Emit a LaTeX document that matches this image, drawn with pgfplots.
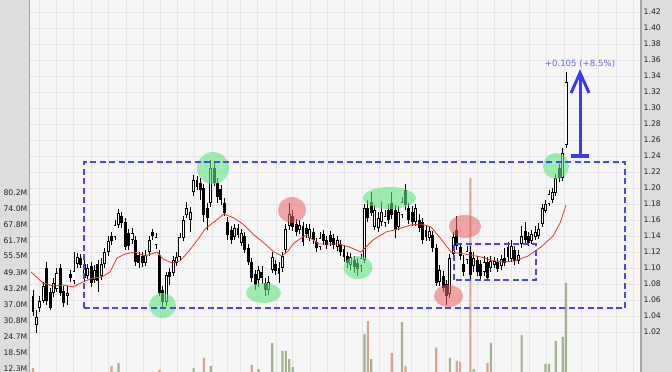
\documentclass[border=0pt]{standalone}
\usepackage{pgfplots}
\pgfplotsset{compat=1.18}
\usepackage{pgfplotstable}
\usepackage{fontspec}
\setmainfont{DejaVu Sans}
\definecolor{plotbg}{RGB}{246,246,246}
\definecolor{gridc}{RGB}{229,229,229}
\definecolor{stripc}{RGB}{221,221,221}
\definecolor{borderc}{RGB}{165,165,165}
\definecolor{volgreen}{RGB}{163,178,143}
\definecolor{volred}{RGB}{214,164,143}
\definecolor{maRed}{RGB}{245,50,50}
\definecolor{rectblue}{RGB}{72,72,238}
\definecolor{arrowblue}{RGB}{58,58,240}
\definecolor{textblue}{RGB}{100,100,235}
\definecolor{cgreen}{RGB}{100,228,130}
\definecolor{cred}{RGB}{236,100,100}
\definecolor{tickc}{RGB}{34,34,34}
\newcommand{\tickfont}{\fontsize{7.7}{9}\selectfont}
\newcommand{\annfont}{\fontsize{8.6}{10}\selectfont}

\pgfplotstableread{
i o h l c
0 1.065 1.0725 1.040 1.045
1 1.029 1.0475 1.019 1.039
2 1.050 1.065 1.045 1.059
3 1.059 1.0825 1.056 1.0775
4 1.100 1.1075 1.054 1.059
5 1.070 1.075 1.0475 1.050
6 1.069 1.0875 1.064 1.081
7 1.074 1.100 1.070 1.094
8 1.100 1.105 1.065 1.069
9 1.071 1.0775 1.051 1.056
10 1.065 1.0775 1.054 1.069
11 1.0925 1.0975 1.0825 1.0875
12 1.084 1.120 1.080 1.096
13 1.105 1.119 1.100 1.114
14 1.1125 1.1175 1.100 1.104
15 1.0875 1.110 1.084 1.105
16 1.090 1.105 1.086 1.100
17 1.1025 1.1075 1.076 1.081
18 1.085 1.104 1.081 1.0975
19 1.105 1.110 1.070 1.084
20 1.090 1.1125 1.085 1.105
21 1.105 1.125 1.100 1.120
22 1.120 1.140 1.115 1.134
23 1.140 1.145 1.129 1.134
24 1.139 1.160 1.135 1.154
25 1.154 1.174 1.150 1.169
26 1.165 1.170 1.150 1.156
27 1.1575 1.1625 1.1225 1.126
28 1.144 1.149 1.1225 1.1275
29 1.135 1.150 1.130 1.144
30 1.135 1.140 1.1025 1.1075
31 1.116 1.120 1.100 1.106
32 1.115 1.120 1.101 1.106
33 1.106 1.1225 1.1025 1.116
34 1.120 1.140 1.115 1.135
35 1.145 1.149 1.135 1.140
36 1.129 1.144 1.124 1.139
37 1.116 1.1225 1.065 1.069
38 1.0725 1.0775 1.050 1.0575
39 1.0575 1.095 1.0525 1.091
40 1.095 1.100 1.079 1.089
41 1.094 1.115 1.090 1.110
42 1.106 1.120 1.1025 1.114
43 1.114 1.144 1.110 1.139
44 1.1375 1.165 1.134 1.160
45 1.166 1.1825 1.1625 1.175
46 1.160 1.176 1.145 1.170
47 1.195 1.216 1.190 1.210
48 1.210 1.215 1.1975 1.201
49 1.206 1.2125 1.185 1.1975
50 1.200 1.205 1.1575 1.166
51 1.175 1.181 1.1475 1.1625
52 1.181 1.235 1.176 1.225
53 1.225 1.231 1.2025 1.206
54 1.206 1.2125 1.181 1.189
55 1.199 1.204 1.179 1.185
56 1.181 1.1875 1.165 1.169
57 1.1575 1.164 1.135 1.141
58 1.1475 1.1525 1.130 1.135
59 1.139 1.155 1.135 1.150
60 1.150 1.155 1.1375 1.141
61 1.131 1.149 1.1275 1.144
62 1.140 1.145 1.119 1.1225
63 1.125 1.130 1.104 1.1075
64 1.1075 1.1125 1.0825 1.0875
65 1.0925 1.0975 1.0725 1.079
66 1.085 1.1025 1.076 1.0975
67 1.095 1.1025 1.080 1.0875
68 1.081 1.0875 1.065 1.0725
69 1.0725 1.090 1.066 1.0825
70 1.0975 1.120 1.094 1.114
71 1.105 1.110 1.091 1.096
72 1.100 1.1075 1.081 1.0925
73 1.100 1.120 1.095 1.115
74 1.1225 1.155 1.119 1.149
75 1.1525 1.181 1.1475 1.1675
76 1.165 1.1725 1.146 1.151
77 1.155 1.161 1.140 1.145
78 1.1475 1.160 1.1425 1.154
79 1.1525 1.1575 1.1275 1.1325
80 1.150 1.155 1.1375 1.1425
81 1.1375 1.155 1.134 1.149
82 1.145 1.150 1.130 1.135
83 1.1325 1.1375 1.120 1.125
84 1.126 1.145 1.1225 1.1375
85 1.1425 1.1475 1.129 1.134
86 1.135 1.140 1.124 1.129
87 1.141 1.146 1.1275 1.1325
88 1.1375 1.1425 1.124 1.129
89 1.126 1.140 1.121 1.135
90 1.130 1.135 1.115 1.120
91 1.124 1.129 1.1075 1.114
92 1.115 1.120 1.100 1.106
93 1.104 1.119 1.0975 1.114
94 1.110 1.115 1.094 1.101
95 1.106 1.1125 1.090 1.099
96 1.1025 1.1175 1.095 1.1125
97 1.110 1.180 1.106 1.175
98 1.175 1.185 1.1575 1.1625
99 1.1825 1.195 1.165 1.169
100 1.151 1.179 1.1475 1.1725
101 1.150 1.170 1.145 1.1625
102 1.1575 1.1825 1.1525 1.170
103 1.156 1.1725 1.151 1.165
104 1.1725 1.180 1.155 1.160
105 1.181 1.195 1.161 1.166
106 1.1725 1.179 1.1375 1.1475
107 1.151 1.1775 1.1475 1.170
108 1.166 1.189 1.1625 1.1825
109 1.1975 1.205 1.1725 1.179
110 1.175 1.181 1.155 1.160
111 1.170 1.1775 1.1525 1.1575
112 1.1575 1.180 1.1525 1.175
113 1.160 1.1675 1.145 1.150
114 1.1575 1.1625 1.130 1.135
115 1.1475 1.1525 1.134 1.139
116 1.1375 1.151 1.134 1.146
117 1.141 1.146 1.120 1.125
118 1.125 1.130 1.0775 1.081
119 1.0825 1.104 1.0775 1.0975
120 1.090 1.096 1.070 1.075
121 1.080 1.085 1.054 1.065
122 1.0675 1.1175 1.0625 1.1125
123 1.1175 1.145 1.114 1.139
124 1.1475 1.165 1.1225 1.1275
125 1.126 1.131 1.110 1.115
126 1.105 1.116 1.090 1.095
127 1.110 1.1275 1.105 1.121
128 1.120 1.1275 1.085 1.091
129 1.1025 1.120 1.095 1.1125
130 1.110 1.115 1.090 1.095
131 1.105 1.110 1.085 1.090
132 1.095 1.115 1.090 1.1075
133 1.1075 1.114 1.084 1.0875
134 1.100 1.115 1.095 1.109
135 1.104 1.114 1.100 1.109
136 1.1075 1.1125 1.095 1.099
137 1.1025 1.116 1.0975 1.111
138 1.1125 1.125 1.1025 1.106
139 1.126 1.1325 1.1075 1.114
140 1.111 1.135 1.1075 1.1275
141 1.1225 1.1275 1.104 1.109
142 1.109 1.1225 1.105 1.116
143 1.130 1.1525 1.125 1.140
144 1.146 1.1575 1.130 1.135
145 1.140 1.145 1.1275 1.131
146 1.134 1.1475 1.130 1.1425
147 1.139 1.1525 1.135 1.145
148 1.140 1.156 1.136 1.149
149 1.155 1.180 1.151 1.175
150 1.171 1.185 1.169 1.180
151 1.180 1.1975 1.1775 1.1925
152 1.185 1.200 1.181 1.195
153 1.194 1.2175 1.190 1.2125
154 1.225 1.230 1.2075 1.2125
155 1.2125 1.250 1.2088 1.244
156 1.254 1.345 1.250 1.3325
}\candles

\pgfplotstableread{
i v
25 14.6
47 12.7
52 13.5
66 12.3
70 22.4
73 19.3
74 19.3
75 16.2
76 13.1
97 25.8
99 16.2
108 30.4
122 16.6
129 12.3
134 22.4
143 25.4
150 14.3
151 14.3
153 23.1
155 24.7
156 45.5
}\volup

\pgfplotstableread{
i v
0 12.7
23 13.5
37 11.9
50 16.6
64 13.9
98 30.8
105 18.5
109 13.5
118 20.6
124 15.4
125 15.0
128 85.9
133 14.6
}\voldown

\begin{document}
\begin{tikzpicture}
\useasboundingbox (0pt,0pt) rectangle (672pt,372pt);
\fill[stripc] (0pt,0pt) rectangle (672pt,372pt);

% axis 1: background, grid, price labels
\begin{axis}[
  at={(30pt,0pt)}, anchor=south west,
  width=611pt, height=372pt, scale only axis,
  xmin=-0.878, xmax=177.93, ymin=0.97, ymax=1.435,
  axis background/.style={fill=plotbg},
  axis line style={draw=none},
  xtick={1.76,6.73,11.71,16.97,21.95,27.22,32.19,37.17,42.14,47.12,52.39,56.78,60.58,65.55,71.11,75.80,81.07,86.04,91.02,96.28,101.26,105.36,110.62,115.60,120.57,124.96,129.94,134.91,139.89,145.16,150.13,155.40,160.37,165.35,170.62,175.59},
  xticklabel=\empty,
  xticklabel style={inner sep=0pt, font=\tiny},
  ytick={1.02,1.04,1.06,1.08,1.10,1.12,1.14,1.16,1.18,1.20,1.22,1.24,1.26,1.28,1.30,1.32,1.34,1.36,1.38,1.40,1.42},
  yticklabels={1.02,1.04,1.06,1.08,1.10,1.12,1.14,1.16,1.18,1.20,1.22,1.24,1.26,1.28,1.30,1.32,1.34,1.36,1.38,1.40,1.42},
  yticklabel pos=right,
  grid=major, major grid style={gridc, line width=0.9pt},
  major tick length=0pt,
  yticklabel style={anchor=west, inner sep=0pt, xshift=2.5pt, font=\tickfont, text=tickc},
]
\addplot[draw=none, mark=none] coordinates {(0,1.1)};
\end{axis}

% axis 2: volume
\begin{axis}[
  at={(30pt,0pt)}, anchor=south west,
  width=611pt, height=372pt, scale only axis,
  xmin=-0.878, xmax=177.93, ymin=11.18, ymax=154.55,
  axis line style={draw=none},
  xtick=\empty,
  ytick={12.3333,18.5,24.6667,30.8333,37,43.1667,49.3333,55.5,61.6667,67.8333,74,80.1667},
  yticklabels={12.3M,18.5M,24.7M,30.8M,37.0M,43.2M,49.3M,55.5M,61.7M,67.8M,74.0M,80.2M},
  major tick length=0pt,
  yticklabel style={anchor=east, inner sep=0pt, xshift=-2.5pt, yshift=0.8pt, font=\tickfont, text=tickc},
  ybar, bar width=2.2pt,
]
\addplot[fill=volgreen, draw=none, bar shift=0pt] table[x=i, y=v] {\volup};
\addplot[fill=volred, draw=none, bar shift=0pt] table[x=i, y=v] {\voldown};
\end{axis}

% axis 3: candles and annotations
\begin{axis}[
  at={(30pt,0pt)}, anchor=south west,
  width=611pt, height=372pt, scale only axis,
  xmin=-0.878, xmax=177.93, ymin=0.97, ymax=1.435,
  hide axis,
]
% wicks
\addplot[draw=none, mark=none,
  error bars/.cd, y dir=both, y explicit, error mark=none,
  error bar style={draw=black, line width=0.85pt}]
  table[x=i, y expr={(\thisrow{h}+\thisrow{l})/2}, y error expr={(\thisrow{h}-\thisrow{l})/2}] {\candles};
% bodies (outline / filled)
\addplot[draw=none, mark=none,
  error bars/.cd, y dir=both, y explicit, error mark=none,
  error bar style={draw=black, line width=2.9pt}]
  table[x=i, y expr={(\thisrow{o}+\thisrow{c})/2}, y error expr={abs(\thisrow{c}-\thisrow{o})/2}] {\candles};
% white interiors of rising candles
\addplot[draw=none, mark=none,
  restrict expr to domain={\thisrow{c}-\thisrow{o}}{0.0001:1},
  error bars/.cd, y dir=both, y explicit, error mark=none,
  error bar style={draw=white, line width=1.2pt}]
  table[x=i, y expr={(\thisrow{o}+\thisrow{c})/2}, y error expr={max(abs(\thisrow{c}-\thisrow{o})/2-0.0009,0)}] {\candles};
% moving average
\addplot[maRed, line width=0.8pt, mark=none, line join=round] coordinates {
(-0.59,1.095) (2.93,1.0813) (5.85,1.0775) (8.78,1.0788) (11.71,1.0763) (14.63,1.0825) (17.56,1.0875) (20.19,1.0888) (22.53,1.095) (24.58,1.1125) (26.92,1.1175) (29.85,1.12) (32.78,1.115) (36.29,1.12) (38.04,1.1113) (40.68,1.1063) (43.02,1.1088) (45.65,1.1213) (48.58,1.1375) (50.34,1.1488) (52.97,1.1575) (55.90,1.1675) (58.82,1.1625) (61.75,1.1538) (64.68,1.1413) (67.60,1.1313) (70.53,1.12) (72.87,1.115) (74.63,1.1213) (76.38,1.1313) (79.89,1.1413) (83.70,1.13) (89.55,1.13) (92.48,1.1263) (95.99,1.12) (96.87,1.1238) (99.50,1.135) (103.31,1.145) (106.82,1.1488) (110.62,1.1538) (113.55,1.155) (116.48,1.1513) (119.40,1.1363) (122.33,1.12) (126.43,1.1175) (131.11,1.1138) (133.74,1.11) (137.55,1.1075) (141.06,1.1088) (144.86,1.115) (148.67,1.1263) (152.18,1.14) (154.23,1.1563) (155.99,1.1788)
};
% highlight ellipses
\fill[cgreen, fill opacity=0.6] (axis cs:52.68,1.225) ellipse [x radius=16pt, y radius=16pt];
\fill[cgreen, fill opacity=0.6] (axis cs:37.9,1.053) ellipse [x radius=13.5pt, y radius=12.5pt];
\fill[cgreen, fill opacity=0.6] (axis cs:67.45,1.0688) ellipse [x radius=17.5pt, y radius=10pt];
\fill[cgreen, fill opacity=0.6] (axis cs:95.1,1.1006) ellipse [x radius=14.5pt, y radius=11.5pt];
\fill[cgreen, fill opacity=0.6] (axis cs:104.3,1.1875) ellipse [x radius=26.5pt, y radius=11pt];
\fill[cgreen, fill opacity=0.6] (axis cs:153.06,1.2275) ellipse [x radius=13pt, y radius=13pt];
\fill[cred, fill opacity=0.55] (axis cs:75.8,1.1725) ellipse [x radius=14pt, y radius=13pt];
\fill[cred, fill opacity=0.55] (axis cs:126.43,1.1519) ellipse [x radius=16pt, y radius=11.5pt];
\fill[cred, fill opacity=0.55] (axis cs:121.6,1.065) ellipse [x radius=14.5pt, y radius=11pt];
% dashed ranges
\draw[rectblue, line width=1.5pt, dash pattern=on 6pt off 3.5pt] (axis cs:14.93,1.05) rectangle (axis cs:173.25,1.2325);
\draw[rectblue, line width=1.5pt, dash pattern=on 6pt off 3.5pt] (axis cs:123.21,1.085) rectangle (axis cs:147.2,1.13);
% arrow annotation
\draw[arrowblue, line width=3.5pt] (axis cs:157.45,1.24) -- (axis cs:162.72,1.24);
\draw[arrowblue, line width=3pt] (axis cs:160.08,1.24) -- (axis cs:160.08,1.342);
\draw[arrowblue, line width=3pt, line join=miter] (axis cs:157.45,1.3188) -- (axis cs:160.08,1.3438) -- (axis cs:162.72,1.3188);
\node[text=textblue, font=\annfont, inner sep=0pt] at (axis cs:160.08,1.355) {+0.105 (+8.5\%)};
\end{axis}

\draw[borderc, line width=1.2pt] (29.4pt,0pt) -- (29.4pt,372pt);
\draw[borderc, line width=1.2pt] (641pt,0pt) -- (641pt,372pt);
\end{tikzpicture}
\end{document}
